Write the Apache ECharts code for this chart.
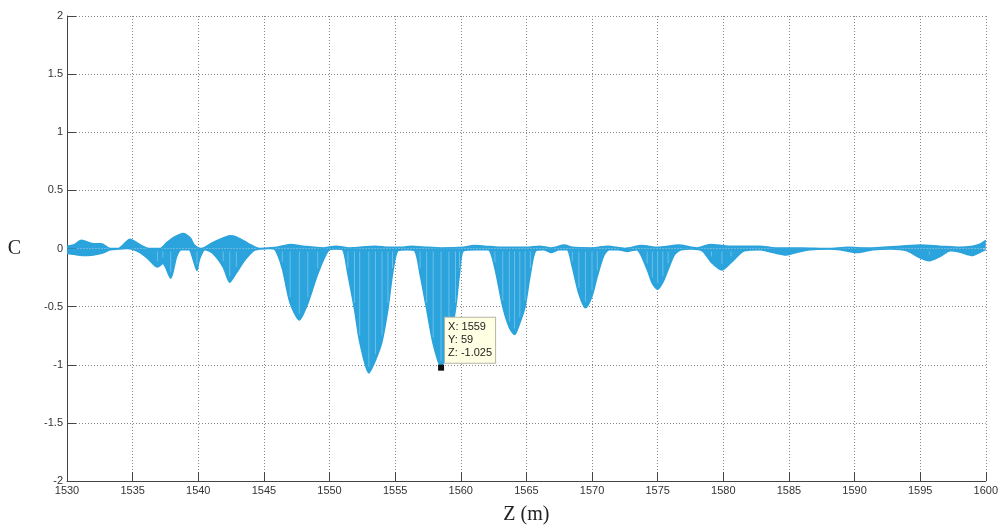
<!DOCTYPE html>
<html>
<head>
<meta charset="utf-8">
<script src="https://cdn.jsdelivr.net/npm/echarts@6/dist/echarts.min.js"></script>
<style>html,body{margin:0;padding:0;background:#fff;}#chart{width:1001px;height:531px;}</style>
</head>
<body>
<div id="chart"></div>
<script>
// ---- data ----
const xTicks = [1530,1535,1540,1545,1550,1555,1560,1565,1570,1575,1580,1585,1590,1595,1600];
const yTicks = [-2,-1.5,-1,-0.5,0,0.5,1,1.5,2];
const zLower = [1530.0,1530.5,1531.2,1532.0,1532.7,1533.3,1533.9,1534.6,1535.3,1536.1,1536.9,1537.3,1537.9,1538.35,1538.7,1539.3,1539.6,1539.9,1540.1,1540.5,1541.1,1541.9,1542.4,1542.9,1543.55,1544.2,1544.7,1545.4,1545.85,1546.4,1547.0,1547.7,1548.35,1549.1,1549.9,1550.5,1551.0,1551.4,1551.9,1552.3,1553.0,1553.5,1554.0,1554.45,1554.8,1555.2,1555.9,1556.5,1556.9,1557.4,1557.9,1558.5,1559.1,1559.6,1559.9,1560.2,1561.2,1562.1,1562.6,1563.2,1563.7,1564.1,1564.5,1564.9,1565.3,1565.7,1566.3,1566.9,1567.5,1568.1,1568.5,1569.0,1569.5,1570.0,1570.4,1570.9,1571.3,1572.0,1572.7,1573.4,1574.2,1574.6,1575.0,1575.4,1575.8,1576.3,1576.8,1577.6,1578.4,1579.1,1579.9,1580.6,1581.6,1582.8,1583.8,1584.8,1585.7,1586.6,1588.0,1588.9,1590.2,1591.4,1592.8,1594.0,1594.9,1595.7,1596.5,1597.3,1598.0,1599.0,1599.6,1600.0];
const cLower = [-0.04,-0.05,-0.06,-0.055,-0.04,-0.01,-0.005,0,-0.02,-0.08,-0.16,-0.13,-0.255,-0.07,-0.01,-0.01,-0.09,-0.19,-0.09,-0.01,-0.04,-0.16,-0.29,-0.21,-0.1,-0.02,-0.005,0,-0.01,-0.17,-0.47,-0.615,-0.47,-0.22,-0.02,-0.005,-0.01,-0.22,-0.52,-0.8,-1.07,-0.96,-0.8,-0.52,-0.22,-0.02,-0.01,-0.02,-0.22,-0.52,-0.82,-1.02,-0.82,-0.52,-0.22,-0.02,-0.01,-0.01,-0.17,-0.5,-0.68,-0.74,-0.64,-0.5,-0.22,-0.02,-0.01,-0.035,-0.01,-0.01,-0.16,-0.39,-0.51,-0.41,-0.24,-0.06,-0.01,-0.01,-0.025,-0.01,-0.18,-0.3,-0.35,-0.29,-0.18,-0.05,-0.01,-0.005,-0.02,-0.12,-0.185,-0.12,-0.02,-0.01,-0.035,-0.055,-0.03,-0.01,-0.005,-0.01,-0.035,-0.01,-0.005,-0.02,-0.075,-0.105,-0.07,-0.02,-0.03,-0.06,-0.03,-0.01];
const zUpper = [1530.0,1530.5,1531.1,1532.0,1532.6,1533.3,1533.9,1534.8,1535.6,1536.3,1537.1,1537.6,1538.2,1538.85,1539.4,1539.7,1540.2,1540.5,1541.1,1541.9,1542.4,1542.9,1543.55,1544.2,1544.7,1546.0,1547.0,1548.0,1549.5,1550.5,1551.5,1553.5,1554.5,1555.5,1556.2,1557.5,1558.5,1560.2,1561.0,1561.8,1563.0,1565.0,1566.0,1566.9,1567.9,1568.5,1570.0,1571.2,1572.5,1573.8,1575.0,1576.6,1578.0,1579.0,1580.5,1582.8,1584.0,1586.0,1588.0,1589.5,1591.0,1593.5,1595.0,1596.5,1598.0,1599.0,1599.6,1600.0];
const cUpper = [0.02,0.03,0.07,0.04,0.04,0.0,0.0,0.08,0.03,0.0,0.0,0.05,0.10,0.13,0.09,0.03,0.0,0.01,0.05,0.09,0.11,0.10,0.06,0.02,0.0,0.01,0.035,0.02,0.005,0.02,0.005,0.02,0.01,0.01,0.02,0.01,0.005,0.01,0.025,0.02,0.01,0.01,0.02,0.005,0.03,0.01,0.005,0.02,0.0,0.025,0.01,0.03,0.005,0.035,0.02,0.02,0.005,0.005,0.0,0.01,0.005,0.02,0.03,0.02,0.01,0.02,0.04,0.07];
const tipZ = 1558.5, tipC = -1.025;
const tipLines = ['X: 1559','Y: 59','Z: -1.025'];

// ---- chart ----
const BLUE = '#2ba3dc';
const lowerData = zLower.map((z,i)=>[z,cLower[i]]);
const upperData = zUpper.map((z,i)=>[z,cUpper[i]]);
const hatchData = lowerData.filter(d=>d[1] < -0.1);

const chart = echarts.init(document.getElementById('chart'), null, {renderer:'canvas'});
const axisLabelStyle = {fontFamily:'Arial, "Liberation Sans", sans-serif', fontSize:11, color:'#333'};
chart.setOption({
  animation:false,
  backgroundColor:'#fff',
  grid:{left:67, right:15, top:16, bottom:50, containLabel:false},
  xAxis:{
    type:'value', min:xTicks[0], max:xTicks[xTicks.length-1], interval:5,
    name:'Z (m)', nameLocation:'middle', nameGap:24,
    nameTextStyle:{fontFamily:'"Liberation Serif", "Times New Roman", serif', fontSize:20, color:'#222'},
    axisLine:{show:true, onZero:false, lineStyle:{color:'#444', width:1}},
    axisTick:{show:true, inside:true, length:9, lineStyle:{color:'#444'}},
    axisLabel:Object.assign({margin:4, formatter:function(v){return String(v);}}, axisLabelStyle),
    splitLine:{show:true, lineStyle:{color:'#888', width:1, type:[1,2]}}
  },
  yAxis:{
    type:'value', min:yTicks[0], max:yTicks[yTicks.length-1], interval:0.5,
    name:'C', nameLocation:'middle', nameRotate:0, nameGap:46,
    nameTextStyle:{fontFamily:'"Liberation Serif", "Times New Roman", serif', fontSize:20, color:'#222'},
    axisLine:{show:true, onZero:false, lineStyle:{color:'#444', width:1}},
    axisTick:{show:true, inside:true, length:9, lineStyle:{color:'#444'}},
    axisLabel:Object.assign({margin:4, formatter:function(v){return String(v);}}, axisLabelStyle),
    splitLine:{show:true, lineStyle:{color:'#888', width:1, type:[1,2]}}
  },
  series:[
    {
      type:'line', data:lowerData, smooth:0.25, showSymbol:false, symbol:'none',
      lineStyle:{color:BLUE, width:1.5}, areaStyle:{color:BLUE, opacity:1}, z:3,
      markPoint:{
        symbol:'rect', symbolSize:6, itemStyle:{color:'#111'},
        data:[{coord:[tipZ, tipC], value:tipC}],
        label:{
          show:true, formatter:tipLines.join('\n'), position:[7,-47],
          fontFamily:'Arial, "Liberation Sans", sans-serif', fontSize:11, color:'#222',
          lineHeight:13, backgroundColor:'#ffffe4', borderColor:'#b5b5a5', borderWidth:1,
          padding:[3,3,3,3], align:'left', verticalAlign:'top'
        }
      }
    },
    {
      type:'line', data:upperData, smooth:0.25, showSymbol:false, symbol:'none',
      lineStyle:{color:BLUE, width:1.5}, areaStyle:{color:BLUE, opacity:1}, z:3
    },
    {
      type:'custom', data:hatchData, z:4, silent:true,
      renderItem:function(params, api){
        const p0 = api.coord([api.value(0), 0]);
        const p1 = api.coord([api.value(0), api.value(1)]);
        return {type:'line', shape:{x1:p0[0], y1:p0[1]+3, x2:p1[0], y2:p1[1]-6},
          style:{stroke:'rgba(255,255,255,0.3)', lineWidth:1}};
      }
    }
  ]
});
</script>
</body>
</html>
